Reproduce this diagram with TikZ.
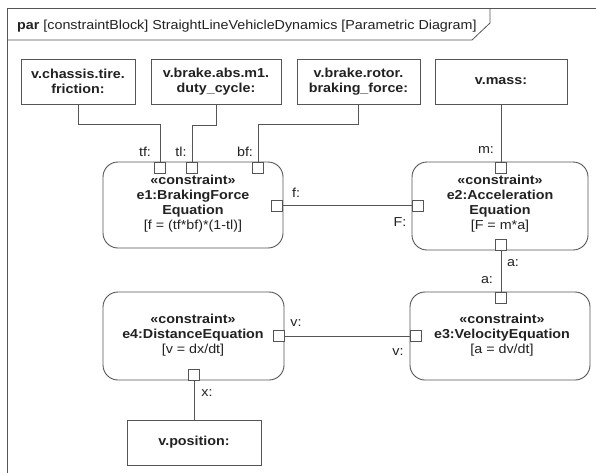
\documentclass[tikz,border=0pt]{standalone}
\usepackage{fontspec}
\setmainfont[FakeStretch=1.1]{Liberation Sans}
\usetikzlibrary{positioning}
\definecolor{lineC}{HTML}{555555}
\definecolor{txtC}{HTML}{222222}
\begin{document}
\begin{tikzpicture}[x=1pt,y=-1pt,
  every node/.style={inner sep=0pt, text=txtC, font=\fontsize{13}{15}\selectfont},
  part/.style={draw=lineC, line width=0.9pt, minimum height=45pt, align=center, font=\fontsize{13}{15}\selectfont\bfseries},
  cblock/.style={draw=lineC, line width=0.9pt, rounded corners=15pt, align=center},
  port/.style={draw=lineC, line width=0.8pt, fill=white, minimum width=11pt, minimum height=11pt},
  conn/.style={draw=lineC, line width=0.7pt},
  lbl/.style={font=\fontsize{13}{15}\selectfont}
]
\useasboundingbox (0,0) rectangle (596,472);
\fill[white] (0,0) rectangle (596,472);
% frame
\draw[lineC, line width=0.9pt] (7,480) -- (7,8) -- (600,8);
\draw[lineC, line width=0.8pt] (7,40) -- (472,40) -- (490,23) -- (490,8);
\node[anchor=base west] (title) at (17,29) {\textbf{par} [constraintBlock] StraightLineVehicleDynamics [Parametric Diagram]};

% parts
\node[part, minimum width=114pt] (chassis) at (78,81.5) {v.chassis.tire.\\friction:};
\node[part, minimum width=130pt] (duty) at (216,81.5) {v.brake.abs.m1.\\duty\_cycle:};
\node[part, minimum width=123pt] (rotor) at (358.5,81.5) {v.brake.rotor.\\braking\_force:};
\node[part, minimum width=132pt] (mass) at (501,81.5) {v.mass:};
\node[part, minimum width=134pt] (position) at (194,442.5) {v.position:};

% constraint blocks
\node[cblock, minimum width=180pt, minimum height=86pt] (e1) at (193,205) {};
\node[align=center] (e1t) at (193,204) {\textbf{«constraint»}\\\textbf{e1:BrakingForce}\\\textbf{Equation}\\{}[f = (tf*bf)*(1-tl)]};
\node[cblock, minimum width=176pt, minimum height=88pt] (e2) at (500,206) {};
\node[align=center] (e2t) at (500,204) {\textbf{«constraint»}\\\textbf{e2:Acceleration}\\\textbf{Equation}\\{}[F = m*a]};
\node[cblock, minimum width=180pt, minimum height=88pt] (e3) at (500,336) {};
\node[align=center] (e3t) at (502,335) {\textbf{«constraint»}\\\textbf{e3:VelocityEquation}\\{}[a = dv/dt]};
\node[cblock, minimum width=181pt, minimum height=88pt] (e4) at (193.5,336) {};
\node[align=center] (e4t) at (193,335) {\textbf{«constraint»}\\\textbf{e4:DistanceEquation}\\{}[v = dx/dt]};

% ports
\node[port] (tf) at (160,167.5) {};
\node[port] (tl) at (192,167.5) {};
\node[port] (bf) at (258,167.5) {};
\node[port] (f) at (277,205.5) {};
\node[port] (m) at (501,167.5) {};
\node[port] (F) at (418,205.5) {};
\node[port] (ao) at (501,244.5) {};
\node[port] (ai) at (501,297.5) {};
\node[port] (v3) at (416,336) {};
\node[port] (v4) at (278.5,336) {};
\node[port] (x) at (194,374.5) {};

% connectors
\draw[conn] (chassis.south) -- ++(0,20) -| (tf.north);
\draw[conn] (duty.south) -- ++(0,21) -| (tl.north);
\draw[conn] (rotor.south) -- ++(0,20) -| (bf.north);
\draw[conn] (mass.south) -- (m.north);
\draw[conn] (f.east) -- (F.west);
\draw[conn] (ao.south) -- (ai.north);
\draw[conn] (v4.east) -- (v3.west);
\draw[conn] (x.south) -- (position.north);

% port labels
\node[lbl] (ltf) at (145,152) {tf:};
\node[lbl] (ltl) at (181,152) {tl:};
\node[lbl] (lbf) at (245,152) {bf:};
\node[lbl] (lf) at (296,193) {f:};
\node[lbl] (lm) at (486,150) {m:};
\node[lbl] (lF) at (400,222) {F:};
\node[lbl] (la1) at (513,263) {a:};
\node[lbl] (la2) at (487,280) {a:};
\node[lbl] (lv4) at (296,323) {v:};
\node[lbl] (lv3) at (398,352) {v:};
\node[lbl] (lx) at (207,393) {x:};
\end{tikzpicture}
\end{document}
